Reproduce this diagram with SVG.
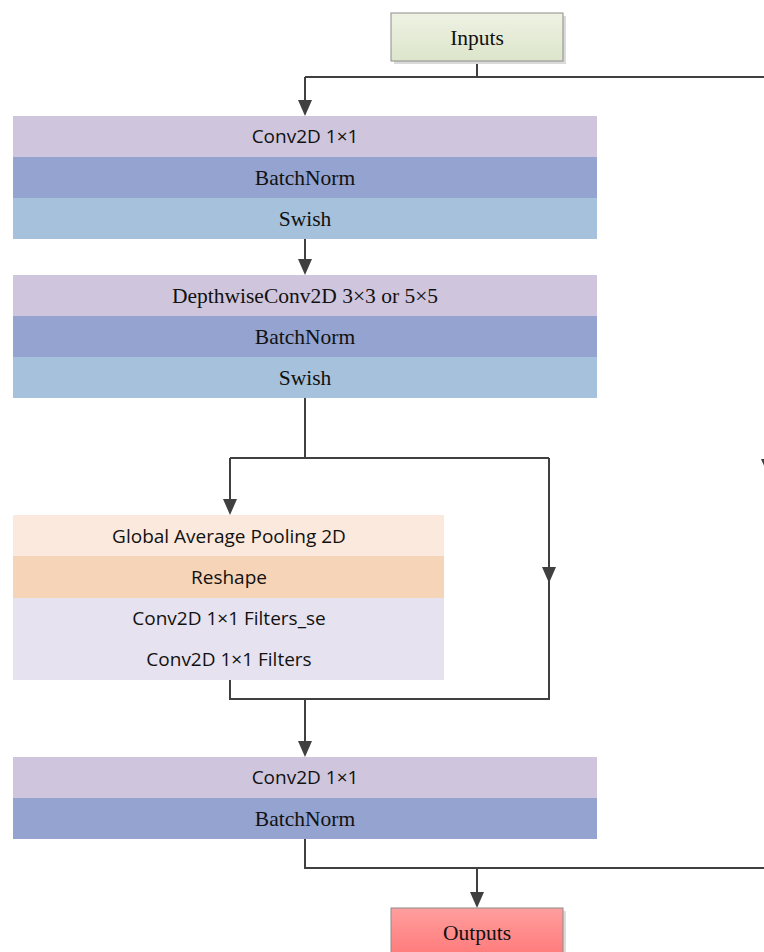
<svg xmlns="http://www.w3.org/2000/svg" width="764" height="952" viewBox="0 0 764 952">
  <defs>
    <linearGradient id="gIn" x1="0" y1="0" x2="0" y2="1">
      <stop offset="0" stop-color="#eef2e3"/>
      <stop offset="1" stop-color="#dde5cb"/>
    </linearGradient>
    <linearGradient id="gOut" x1="0" y1="0" x2="0" y2="1">
      <stop offset="0" stop-color="#ff9e9e"/>
      <stop offset="1" stop-color="#ff7a7a"/>
    </linearGradient>
    <style>
      .serif { font-family: "Liberation Serif", "Times New Roman", serif; font-size: 21.5px; fill: #111; text-anchor: middle; }
      .sans { font-family: "Open Sans", "Noto Sans", sans-serif; font-size: 19px; fill: #111; text-anchor: middle; }
      .conv { fill: #cfc6dd; }
      .bn { fill: #94a3cf; }
      .sw { fill: #a5c1db; }
      .gap { fill: #fae9dc; }
      .rs { fill: #f6d4b7; }
      .se { fill: #e6e2ef; }
      .wire { fill: none; stroke: #404040; stroke-width: 2; }
      .head { fill: #404040; }
      .shadow { fill: #dadada; }
      .term { stroke: #8c8c8c; stroke-width: 1; }
    </style>
  </defs>
  <rect width="764" height="952" fill="#ffffff"/>

  <!-- connectors -->
  <g id="connectors">
    <path class="wire" d="M477,61 V77"/>
    <path class="wire" d="M305,77 H764"/>
    <path class="wire" d="M305,77 V100"/>
    <path class="wire" d="M305,239 V259"/>
    <path class="wire" d="M305,398 V458 M230,458 H549"/>
    <path class="wire" d="M230,458 V499"/>
    <path class="wire" d="M549,458 V699 H230 V680"/>
    <path class="wire" d="M305,699 V741"/>
    <path class="wire" d="M305,839 V868 H764"/>
    <path class="wire" d="M477,868 V892"/>
    <!-- arrowheads -->
    <path class="head" d="M298,100 H312 L305,116 Z"/>
    <path class="head" d="M298,259 H312 L305,275 Z"/>
    <path class="head" d="M223,499 H237 L230,515 Z"/>
    <path class="head" d="M542,567 H556 L549,583 Z"/>
    <path class="head" d="M298,741 H312 L305,757 Z"/>
    <path class="head" d="M470,892 H484 L477,908 Z"/>
    <!-- skip path running along the right edge -->
    <path class="head" d="M761,459 H775 L768,475 Z"/>
  </g>

  <g id="inputs">
    <rect class="shadow" x="394" y="16" width="172" height="48"/>
    <rect class="term" x="391" y="13" width="172" height="48" fill="url(#gIn)"/>
    <text class="serif" x="477" y="45" font-size="22">Inputs</text>
  </g>

  <g id="expand">
    <rect class="conv" x="13" y="116" width="584" height="41"/>
    <rect class="bn" x="13" y="157" width="584" height="41"/>
    <rect class="sw" x="13" y="198" width="584" height="41"/>
    <text class="sans" x="305" y="143">Conv2D 1×1</text>
    <text class="serif" x="305" y="185">BatchNorm</text>
    <text class="serif" x="305" y="226">Swish</text>
  </g>

  <g id="depthwise">
    <rect class="conv" x="13" y="275" width="584" height="41"/>
    <rect class="bn" x="13" y="316" width="584" height="41"/>
    <rect class="sw" x="13" y="357" width="584" height="41"/>
    <text class="serif" x="305" y="303">DepthwiseConv2D 3×3 or 5×5</text>
    <text class="serif" x="305" y="344">BatchNorm</text>
    <text class="serif" x="305" y="385">Swish</text>
  </g>

  <g id="squeeze-excite">
    <rect class="gap" x="13" y="515" width="431" height="41"/>
    <rect class="rs" x="13" y="556" width="431" height="42"/>
    <rect class="se" x="13" y="598" width="431" height="82"/>
    <text class="sans" x="229" y="543">Global Average Pooling 2D</text>
    <text class="sans" x="229" y="584">Reshape</text>
    <text class="sans" x="229" y="625">Conv2D 1×1 Filters_se</text>
    <text class="sans" x="229" y="666">Conv2D 1×1 Filters</text>
  </g>

  <g id="project">
    <rect class="conv" x="13" y="757" width="584" height="41"/>
    <rect class="bn" x="13" y="798" width="584" height="41"/>
    <text class="sans" x="305" y="784">Conv2D 1×1</text>
    <text class="serif" x="305" y="826">BatchNorm</text>
  </g>

  <g id="outputs">
    <rect class="shadow" x="394" y="911" width="172" height="48"/>
    <rect class="term" x="391" y="908" width="172" height="48" fill="url(#gOut)"/>
    <text class="serif" x="477" y="940" font-size="19.5">Outputs</text>
  </g>
</svg>
